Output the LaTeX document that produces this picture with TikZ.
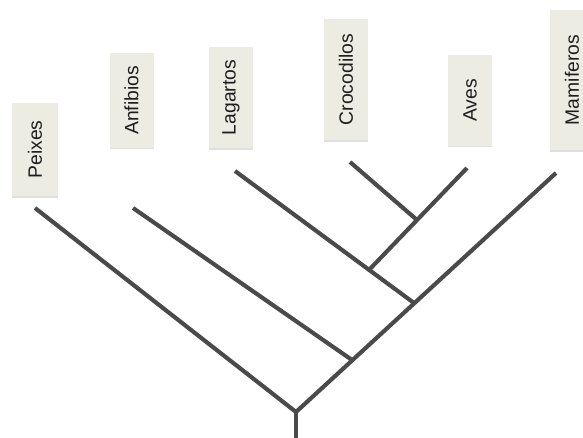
\documentclass[tikz,border=0pt]{standalone}
\usepackage{fontspec}
\setmainfont{Liberation Sans}
\usetikzlibrary{shadows}
\definecolor{boxfill}{HTML}{EDECE3}
\definecolor{branch}{HTML}{4A4A4A}
\definecolor{labeltext}{HTML}{1E1E1E}
\tikzset{
  taxon/.style={fill=boxfill, draw=none, minimum width=33pt, inner sep=0pt,
    rotate=90, text=labeltext, font=\fontsize{14.5pt}{17pt}\selectfont,
    drop shadow={shadow xshift=0pt, shadow yshift=-1.2pt, opacity=0.25}},
  branchline/.style={draw=branch, line width=3.1pt, line cap=butt, line join=miter}
}
\begin{document}
\begin{tikzpicture}[x=0.75pt, y=-0.75pt]
\useasboundingbox (0,0) rectangle (583,438);
% labels (after rotation, minimum width is the vertical extent)
\node[taxon, minimum width=70pt, minimum height=35pt] (peixes) at (35,149.5) {Peixes};
\node[taxon, minimum width=71pt, minimum height=33pt] (anfibios) at (131.5,100.5) {Anfibios};
\node[taxon, minimum width=76pt, minimum height=33pt] (lagartos) at (231,97.5) {Lagartos};
\node[taxon, minimum width=91pt, minimum height=33pt] (crocodilos) at (346,79.5) {Crocodilos};
\node[taxon, minimum width=68pt, minimum height=33pt] (aves) at (470,100.5) {Aves};
\node[taxon, minimum width=105pt, minimum height=33pt] (mamiferos) at (572,80) {Mamiferos};
% tree points
\coordinate (root) at (296,412);
\coordinate (base) at (296,438);
\coordinate (pe) at (35,208);
\coordinate (ma) at (556,173);
\coordinate (an) at (133,208);
\coordinate (j1) at (352,360);
\coordinate (la) at (235,171);
\coordinate (j2) at (414,303);
\coordinate (av) at (467,168);
\coordinate (j3) at (369,270);
\coordinate (cr) at (350,162);
\coordinate (j4) at (417,220);
% branches
\draw[branchline] (pe) -- (root) -- (ma);
\draw[branchline] (root) -- (base);
\draw[branchline] (an) -- (j1);
\draw[branchline] (la) -- (j2);
\draw[branchline] (av) -- (j3);
\draw[branchline] (cr) -- (j4);
\end{tikzpicture}
\end{document}
